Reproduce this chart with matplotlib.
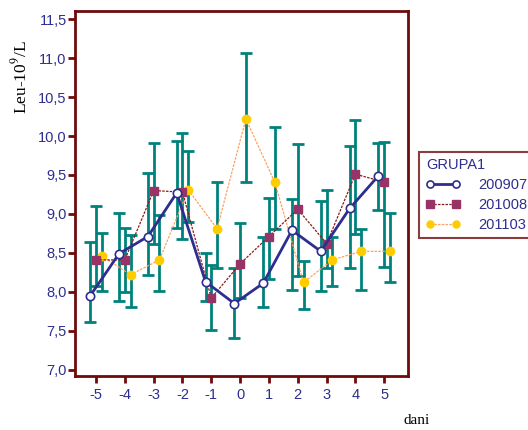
import matplotlib
matplotlib.use("Agg")
from matplotlib import pyplot as plt
import numpy as np

days = [-5, -4, -3, -2, -1, 0, 1, 2, 3, 4, 5]

# 200907
g1_mean = [7.95, 8.49, 8.71, 9.27, 8.13, 7.85, 8.11, 8.79, 8.52, 9.07, 9.49]
g1_hi = [8.64, 9.01, 9.53, 9.94, 8.50, 8.30, 8.71, 9.19, 9.17, 9.87, 9.91]
g1_lo = [7.61, 7.88, 8.21, 8.82, 7.88, 7.41, 7.81, 8.03, 8.01, 8.30, 9.05]

# 201008
g2_mean = [8.41, 8.41, 9.30, 9.28, 7.92, 8.36, 8.71, 9.06, 8.62, 9.51, 9.41]
g2_hi = [9.10, 8.82, 9.91, 10.04, 8.35, 8.88, 9.21, 9.90, 9.31, 10.21, 9.92]
g2_lo = [8.08, 8.00, 8.61, 8.68, 7.51, 7.92, 8.16, 8.20, 8.30, 8.74, 8.32]

# 201103
g3_mean = [8.46, 8.22, 8.41, 9.31, 8.81, 10.22, 9.41, 8.12, 8.41, 8.52, 8.52]
g3_hi = [8.75, 8.73, 8.99, 9.81, 9.41, 11.07, 10.11, 8.40, 8.71, 8.81, 9.01]
g3_lo = [8.01, 7.81, 8.01, 8.90, 8.30, 9.41, 8.81, 7.78, 8.08, 8.03, 8.13]

yticks = [7.0, 7.5, 8.0, 8.5, 9.0, 9.5, 10.0, 10.5, 11.0, 11.5]
ytick_labels = ["7,0", "7,5", "8,0", "8,5", "9,0", "9,5", "10,0", "10,5", "11,0", "11,5"]

navy = "#2e2e8e"
maroon = "#6e0b0b"
teal = "#00827c"

plt.rcParams["font.family"] = ["Liberation Sans", "DejaVu Sans"]
plt.rcParams["mathtext.fontset"] = "stix"

fig = plt.figure(figsize=(5.28, 4.30), dpi=100)
ax = fig.add_axes([0.142, 0.1256, 0.631, 0.848])

x = np.array(days, dtype=float)
groups = [
    (x - 0.2, g1_mean, g1_lo, g1_hi),
    (x, g2_mean, g2_lo, g2_hi),
    (x + 0.2, g3_mean, g3_lo, g3_hi),
]
for xs, m, lo, hi in groups:
    m = np.array(m); lo = np.array(lo); hi = np.array(hi)
    ax.errorbar(xs, m, yerr=[m - lo, hi - m], fmt="none", ecolor=teal,
                elinewidth=2, capsize=4, capthick=2, zorder=2)

l1, = ax.plot(x - 0.2, g1_mean, color=navy, lw=2, marker="o", ms=6,
              mfc="white", mec=navy, mew=1.2, zorder=5, label="200907")
l2, = ax.plot(x, g2_mean, color="#8b1a1a", lw=0.9, ls=(0, (2, 1)), marker="s",
              ms=6, mfc="#993366", mec="#993366", zorder=4, label="201008")
l3, = ax.plot(x + 0.2, g3_mean, color="#ffa060", lw=0.9, ls=(0, (2, 1)),
              marker="o", ms=6, mfc="#ffcc00", mec="#ffcc00", zorder=3, label="201103")

ax.set_xlim(-5.73, 5.83)
ax.set_ylim(6.92, 11.6)
ax.set_xticks(days)
ax.set_xticklabels([str(d) for d in days])
ax.set_yticks(yticks)
ax.set_yticklabels(ytick_labels)
ax.tick_params(axis="both", direction="out", length=5, width=2, color=maroon,
               labelcolor=navy, labelsize=10.5)
ax.tick_params(axis="x", pad=4)
ax.tick_params(axis="y", pad=1)
for s in ax.spines.values():
    s.set_color(maroon)
    s.set_linewidth(2)

fig.text(0.038, 0.82, "Leu-10$^9$/L", rotation=90, ha="center", va="center",
         family="Liberation Serif", fontsize=12.5, color="black")
fig.text(0.79, 0.022, "dani", ha="center", va="center",
         family="Liberation Serif", fontsize=11, color="black")

leg = fig.legend(handles=[l1, l2, l3], loc="upper left",
                 bbox_to_anchor=(0.794, 0.647), numpoints=2, handlelength=2.4,
                 title="GRUPA1", alignment="left", fancybox=False,
                 frameon=True, fontsize=10.5, title_fontsize=10.5,
                 borderpad=0.45, labelspacing=0.4, handletextpad=1.2,
                 markerscale=0.85, borderaxespad=0)
leg.get_frame().set_edgecolor(maroon)
leg.get_frame().set_linewidth(1.5)
leg.get_title().set_color(navy)
for t in leg.get_texts():
    t.set_color(navy)

fig.savefig("out.png", dpi=100)
